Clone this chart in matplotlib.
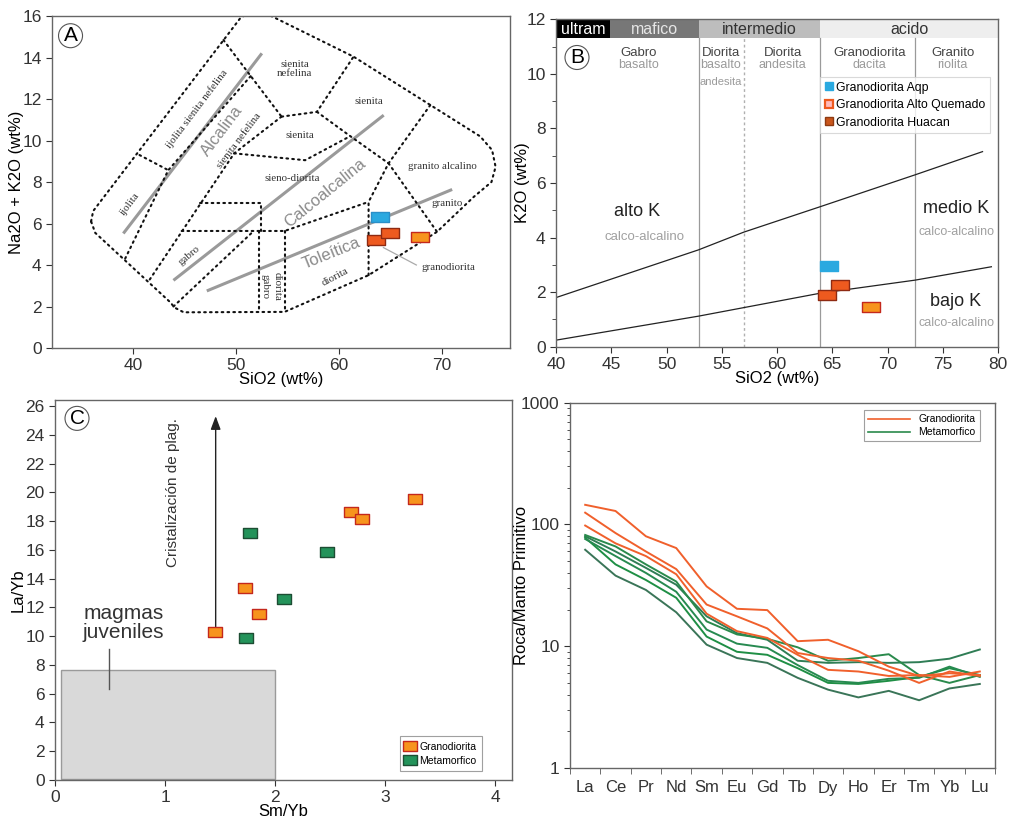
import matplotlib
matplotlib.use('Agg')
import matplotlib.pyplot as plt
from matplotlib.path import Path
from matplotlib.lines import Line2D
from matplotlib.patches import Rectangle

plt.rcParams['font.family'] = ['Liberation Sans', 'DejaVu Sans']

# ---------------- Panel A : TAS (Na2O+K2O vs SiO2) ----------------
a_sio2_aqp = [64.0]
a_alk_aqp = [6.32]
a_sio2_aq = [63.6, 64.97]
a_alk_aq = [5.22, 5.56]
a_sio2_hu = [67.9]
a_alk_hu = [5.35]

# field boundaries (SiO2, Na2O+K2O)
tas_outer = [(35.9, 6.1), (36.1, 6.6), (50.4, 15.9), (51.2, 16.15), (52.3, 16.2),
             (53.4, 16.0), (61.4, 14.04), (68.86, 11.71), (73.7, 10.2), (74.86, 9.54),
             (75.2, 8.73), (74.8, 8.0), (73.07, 7.28), (69.51, 5.6), (62.86, 3.51),
             (54.7, 1.74), (44.9, 1.72), (44.0, 1.95), (43.6, 2.2), (36.3, 5.55), (35.9, 6.1)]
tas_lines = [
    [(40.6, 9.3), (43.4, 8.57)],
    [(48.76, 14.84), (54.4, 11.15)],
    [(51.4, 13.1), (43.4, 8.57), (39.2, 4.3)],
    [(54.4, 11.15), (49.8, 9.38), (41.46, 3.2)],
    [(54.4, 11.15), (57.84, 11.38), (61.4, 14.04)],
    [(57.84, 11.38), (61.08, 10.21), (64.8, 8.9)],
    [(49.8, 9.38), (56.7, 9.05), (61.08, 10.21)],
    [(62.86, 3.51), (62.86, 7.04), (64.8, 8.9), (68.86, 11.71)],
    [(64.8, 8.9), (69.51, 5.6)],
    [(46.5, 7.0), (52.4, 7.0), (52.4, 5.64)],
    [(44.7, 5.64), (54.7, 5.64), (62.86, 7.04)],
    [(52.2, 5.64), (52.2, 1.72)],
    [(54.7, 5.64), (54.7, 1.74)],
    [(43.9, 2.0), (51.7, 5.64)],
]
series_lines = {
    'Alcalina': [(39.03, 5.52), (52.49, 14.2)],
    'Calcoalcalina': [(43.9, 3.26), (64.33, 11.22)],
    'Toleitica': [(47.14, 2.75), (70.98, 7.64)],
}

# ---------------- Panel B : K2O vs SiO2 ----------------
b_sio2_aqp = [64.7]
b_k2o_aqp = [2.96]
b_sio2_aq = [64.53, 65.74]
b_k2o_aq = [1.9, 2.26]
b_sio2_hu = [68.54]
b_k2o_hu = [1.44]
b_upper_x = [40, 52.9, 57, 63.9, 72.5, 78.6]
b_upper_y = [1.8, 3.55, 4.2, 5.13, 6.3, 7.15]
b_lower_x = [40, 52.9, 63.9, 72.5, 79.4]
b_lower_y = [0.24, 1.12, 1.96, 2.44, 2.93]
header_labels = ['ultram', 'mafico', 'intermedio', 'acido']
header_bounds = [40, 44.9, 52.9, 63.9, 80]

# ---------------- Panel C : La/Yb vs Sm/Yb ----------------
c_smyb_gran = [1.45, 1.725, 1.855, 2.69, 2.79, 3.27]
c_layb_gran = [10.27, 13.37, 11.54, 18.61, 18.12, 19.54]
c_smyb_meta = [1.74, 1.776, 2.08, 2.47]
c_layb_meta = [9.9, 17.2, 12.56, 15.83]
juvenile_box = (0.05, 0.1, 2.0, 7.65)

# ---------------- Panel D : REE spider ----------------
ree = ['La', 'Ce', 'Pr', 'Nd', 'Sm', 'Eu', 'Gd', 'Tb', 'Dy', 'Ho', 'Er', 'Tm', 'Yb', 'Lu']
gran_1 = [145, 129, 80, 64, 31, 20.3, 19.8, 11, 11.3, 9.1, 6.8, 5.7, 6.0, 5.8]
gran_2 = [125, 85, 60, 43, 22, 17.6, 14, 8.8, 8.0, 7.6, 6.3, 5.0, 6.2, 5.7]
gran_3 = [98, 70, 55, 39, 18.5, 13.3, 11.7, 8.5, 6.4, 6.2, 5.7, 5.8, 5.6, 6.2]
meta_1 = [80, 60, 44, 32, 17.6, 12.8, 11.3, 7.6, 7.3, 7.4, 7.3, 7.4, 7.9, 9.4]
meta_2 = [82, 66, 47, 34, 16, 12.5, 11.5, 9.8, 7.6, 8.0, 8.6, 5.8, 5.0, 5.8]
meta_3 = [62, 38, 29, 19, 10.3, 8, 7.3, 5.5, 4.4, 3.8, 4.3, 3.6, 4.5, 4.9]
meta_4 = [78, 47, 35, 25, 12, 9, 8.5, 6.6, 5.0, 4.9, 5.2, 5.6, 6.6, 5.8]
meta_5 = [76, 55, 40, 28, 13.7, 10.5, 9.7, 7.0, 5.2, 5.0, 5.4, 5.5, 6.8, 5.6]

# ---------------- styling helpers ----------------
RECT_A = Path([(-1.6, -1), (1.6, -1), (1.6, 1), (-1.6, 1), (-1.6, -1)],
              [Path.MOVETO, Path.LINETO, Path.LINETO, Path.LINETO, Path.CLOSEPOLY])
RECT_C = Path([(-1.25, -1), (1.25, -1), (1.25, 1), (-1.25, 1), (-1.25, -1)],
              [Path.MOVETO, Path.LINETO, Path.LINETO, Path.LINETO, Path.CLOSEPOLY])
C_BLUE, E_BLUE = '#2aa9e0', '#2a8fc8'
C_RED, E_RED = '#ee5a1f', '#8e2a12'
C_ORA, E_ORA = '#f7941d', '#c4281c'
C_GREEN, E_GREEN = '#23935a', '#1d4d33'
SPINE = '#666666'
TICK_FS = 12.5
LAB_FS = 12

def style_axes(ax):
    for s in ax.spines.values():
        s.set_color(SPINE)
        s.set_linewidth(1.0)
    ax.tick_params(direction='out', length=4, width=0.8, colors='#333333',
                   labelsize=TICK_FS, top=False, right=False)

def circled(ax, x, y, s):
    ax.text(x, y, s, fontsize=15, ha='center', va='center', zorder=10,
            bbox=dict(boxstyle='circle,pad=0.12', fc='white', ec='#555555', lw=0.8))

fig = plt.figure(figsize=(10.11, 8.25), dpi=100)
axA = fig.add_axes([52 / 1011, 1 - 348 / 825, 458 / 1011, 332 / 825])
axB = fig.add_axes([556 / 1011, 1 - 346.7 / 825, 442 / 1011, 327.4 / 825])
axC = fig.add_axes([55 / 1011, 1 - 780 / 825, 456.7 / 1011, 379.6 / 825])
axD = fig.add_axes([570 / 1011, 1 - 768 / 825, 425 / 1011, 365.3 / 825])

# ================= Panel A =================
ax = axA
style_axes(ax)
ax.set_xlim(32.1, 76.6)
ax.set_ylim(0, 16)
ax.set_xticks([40, 50, 60, 70])
ax.set_yticks(range(0, 17, 2))
dash = (0, (0.8, 2.0))
ox, oy = zip(*tas_outer)
ax.plot(ox, oy, color='#111111', lw=1.5, ls=dash, dash_capstyle='round', zorder=2)
for ln in tas_lines:
    lx, ly = zip(*ln)
    ax.plot(lx, ly, color='#111111', lw=1.5, ls=dash, dash_capstyle='round', zorder=2)
for name, ln in series_lines.items():
    lx, ly = zip(*ln)
    ax.plot(lx, ly, color='#9a9a9a', lw=2.2, solid_capstyle='butt', zorder=1)

serif = ['Liberation Serif', 'DejaVu Serif']
tas_labels = [
    ('ijolita', 39.7, 6.96, 53),
    ('ijolita sienita nefelina', 46.2, 11.5, 53),
    ('sienita nefelina', 50.3, 10.0, 53),
    ('sienita\nnefelina', 55.7, 13.45, 0),
    ('sienita', 62.9, 11.86, 0),
    ('sienita', 56.2, 10.26, 0),
    ('sieno-diorita', 55.4, 8.17, 0),
    ('granito alcalino', 70.0, 8.73, 0),
    ('granito', 70.5, 6.97, 0),
    ('gabro', 45.4, 4.45, 40),
    ('diorita', 59.6, 3.4, 28),
    ('granodiorita', 70.6, 3.9, 0),
]
for txt, x, y, r in tas_labels:
    ax.text(x, y, txt, fontsize=7.8, family=serif, color='#333333', ha='center',
            va='center', rotation=r, rotation_mode='anchor', linespacing=1.1, zorder=3)
ax.text(52.75, 2.95, 'gabro', fontsize=7.8, family=serif, color='#333333',
        ha='center', va='center', rotation=-90)
ax.text(54.0, 2.95, 'diorita', fontsize=7.8, family=serif, color='#333333',
        ha='center', va='center', rotation=-90)
ax.text(48.6, 10.45, 'Alcalina', fontsize=12, color='#8a8a8a', ha='center',
        va='center', rotation=53, rotation_mode='anchor', zorder=3)
ax.text(58.6, 7.45, 'Calcoalcalina', fontsize=12, color='#8a8a8a', ha='center',
        va='center', rotation=39, rotation_mode='anchor', zorder=3)
ax.text(59.2, 4.55, 'Toleítica', fontsize=12, color='#8a8a8a', ha='center',
        va='center', rotation=22, rotation_mode='anchor', zorder=3)
ax.plot([64.3, 67.5], [4.84, 4.0], color='#aaaaaa', lw=0.9, zorder=2)
ax.plot(a_sio2_aqp, a_alk_aqp, ls='none', marker=RECT_A, ms=12.5, mfc=C_BLUE,
        mec=E_BLUE, mew=1.0, zorder=5)
ax.plot(a_sio2_aq, a_alk_aq, ls='none', marker=RECT_A, ms=12.5, mfc=C_RED,
        mec=E_RED, mew=1.0, zorder=5)
ax.plot(a_sio2_hu, a_alk_hu, ls='none', marker=RECT_A, ms=12.5, mfc=C_ORA,
        mec=E_ORA, mew=1.0, zorder=5)
ax.set_xlabel('SiO2 (wt%)', fontsize=LAB_FS, labelpad=-1)
ax.set_ylabel('Na2O + K2O (wt%)', fontsize=LAB_FS, labelpad=-1)
circled(ax, 33.9, 15.05, 'A')

# ================= Panel B =================
ax = axB
style_axes(ax)
ax.set_xlim(40, 80)
ax.set_ylim(0, 12)
ax.set_xticks(range(40, 81, 5))
ax.set_yticks(range(0, 13, 2))
ax.set_yticks(range(1, 12, 2), minor=True)
ax.tick_params(axis='y', which='minor', length=3, color='#333333')
hdr_face = ['#000000', '#777777', '#bdbdbd', '#eeeeee']
hdr_text = ['white', '#e6e6e6', '#333333', '#333333']
for i, lab in enumerate(header_labels):
    x0, x1 = header_bounds[i], header_bounds[i + 1]
    ax.add_patch(Rectangle((x0, 11.3), x1 - x0, 0.7, fc=hdr_face[i], ec='none', zorder=1))
    ax.text((x0 + x1) / 2, 11.64, lab, fontsize=11.5, color=hdr_text[i], ha='center',
            va='center', zorder=2)
for xv in [52.9, 63.9, 72.5]:
    ax.plot([xv, xv], [0, 11.3], color='#9a9a9a', lw=0.9, zorder=1)
ax.plot([57, 57], [0, 11.3], color='#b0b0b0', lw=1.0, ls=(0, (2, 2)), zorder=1)
ax.plot(b_upper_x, b_upper_y, color='#222222', lw=0.9, zorder=2)
ax.plot(b_lower_x, b_lower_y, color='#222222', lw=0.9, zorder=2)
rock_names = [('Gabro', 'basalto', 47.5), ('Diorita', 'basalto', 54.9),
              ('Diorita', 'andesita', 60.5), ('Granodiorita', 'dacita', 68.4),
              ('Granito', 'riolita', 75.9)]
for top, bot, x in rock_names:
    ax.text(x, 10.78, top, fontsize=9.5, color='#444444', ha='center', va='center')
    ax.text(x, 10.33, bot, fontsize=9, color='#9a9a9a', ha='center', va='center')
ax.text(54.9, 9.7, 'andesita', fontsize=8, color='#9a9a9a', ha='center', va='center')
ax.text(47.3, 4.95, 'alto K', fontsize=13, color='#222222', ha='center', va='center')
ax.text(48.05, 4.03, 'calco-alcalino', fontsize=9.5, color='#a0a0a0', ha='center', va='center')
ax.text(76.2, 5.07, 'medio K', fontsize=13, color='#222222', ha='center', va='center')
ax.text(76.2, 4.2, 'calco-alcalino', fontsize=9, color='#a0a0a0', ha='center', va='center')
ax.text(76.2, 1.65, 'bajo K', fontsize=13, color='#222222', ha='center', va='center')
ax.text(76.2, 0.86, 'calco-alcalino', fontsize=9, color='#a0a0a0', ha='center', va='center')
ax.plot(b_sio2_aqp, b_k2o_aqp, ls='none', marker=RECT_A, ms=12.5, mfc=C_BLUE,
        mec=C_BLUE, mew=1.0, zorder=5)
ax.plot(b_sio2_aq, b_k2o_aq, ls='none', marker=RECT_A, ms=12.5, mfc=C_RED,
        mec=E_RED, mew=1.0, zorder=5)
ax.plot(b_sio2_hu, b_k2o_hu, ls='none', marker=RECT_A, ms=12.5, mfc=C_ORA,
        mec=E_ORA, mew=1.0, zorder=5)
hB = [Line2D([], [], ls='none', marker='s', ms=6, mfc=C_BLUE, mec=C_BLUE),
      Line2D([], [], ls='none', marker='s', ms=6, mfc='#fbb', mec=C_RED, mew=1.6),
      Line2D([], [], ls='none', marker='s', ms=6, mfc='#c9561c', mec='#8e3a12')]
legB = ax.legend(hB, ['Granodiorita Aqp', 'Granodiorita Alto Quemado', 'Granodiorita Huacan'],
                 loc='upper left', bbox_to_anchor=(0.597, 0.823), fontsize=8.8,
                 frameon=True, fancybox=False, edgecolor='#d0d0d0', handletextpad=0.2,
                 handlelength=0.8, borderpad=0.35, labelspacing=0.45, borderaxespad=0)
legB.get_frame().set_linewidth(0.8)
legB.set_zorder(20)
ax.set_xlabel('SiO2 (wt%)', fontsize=LAB_FS, labelpad=-1)
ax.set_ylabel('K2O (wt%)', fontsize=LAB_FS, labelpad=-3)
circled(ax, 41.9, 10.6, 'B')

# ================= Panel C =================
ax = axC
style_axes(ax)
ax.set_xlim(0, 4.15)
ax.set_ylim(0, 26.4)
ax.set_xticks(range(0, 5))
ax.set_yticks(range(0, 27, 2))
bx0, by0, bx1, by1 = juvenile_box
ax.add_patch(Rectangle((bx0, by0), bx1 - bx0, by1 - by0, fc='#d9d9d9', ec='#9a9a9a',
                       lw=1.0, zorder=1))
ax.text(0.62, 10.9, 'magmas\njuveniles', fontsize=15, color='#333333', ha='center',
        va='center', linespacing=1.0)
ax.plot([0.49, 0.49], [9.1, 6.3], color='#555555', lw=1.0)
ax.annotate('', xy=(1.46, 25.5), xytext=(1.46, 10.45),
            arrowprops=dict(arrowstyle='-|>,head_length=0.8,head_width=0.3',
                            color='#222222', lw=1.0))
ax.text(1.07, 20.0, 'Cristalización de plag.', fontsize=11, color='#333333',
        rotation=90, ha='center', va='center')
ax.plot(c_smyb_gran, c_layb_gran, ls='none', marker=RECT_C, ms=9.5, mfc=C_ORA,
        mec=E_ORA, mew=1.0, zorder=5, label='Granodiorita')
ax.plot(c_smyb_meta, c_layb_meta, ls='none', marker=RECT_C, ms=9.5, mfc=C_GREEN,
        mec=E_GREEN, mew=1.0, zorder=5, label='Metamorfico')
legC = ax.legend(loc='lower left', bbox_to_anchor=(0.755, 0.024), fontsize=7.5,
                 frameon=True, fancybox=False, edgecolor='#888888', handletextpad=0.4,
                 handlelength=1.0, borderpad=0.5, labelspacing=0.4, borderaxespad=0)
legC.get_frame().set_linewidth(0.8)
ax.set_xlabel('Sm/Yb', fontsize=LAB_FS, labelpad=-1)
ax.set_ylabel('La/Yb', fontsize=LAB_FS, labelpad=0)
circled(ax, 0.2, 25.15, 'C')

# ================= Panel D =================
ax = axD
style_axes(ax)
ax.set_yscale('log')
ax.set_ylim(1, 1000)
ax.set_xlim(-0.49, 13.44)
xs = list(range(len(ree)))
for g in [gran_1, gran_2, gran_3]:
    ax.plot(xs, g, color='#f0602c', lw=1.4, zorder=3)
for m, c in zip([meta_1, meta_2, meta_3, meta_4, meta_5],
                ['#2f7d55', '#2a8a4c', '#3a7558', '#1f8f45', '#278a50']):
    ax.plot(xs, m, color=c, lw=1.4, zorder=2)
ax.set_yticks([1, 10, 100, 1000])
ax.set_yticklabels(['1', '10', '100', '1000'])
ax.tick_params(axis='y', which='minor', length=2.5, color='#333333')
ax.set_xticks(xs)
ax.set_xticklabels(ree, fontsize=12)
ax.tick_params(axis='x', which='major', length=0, pad=9)
ax.set_xticks([i + 0.5 for i in range(-1, len(ree))], minor=True)
ax.tick_params(axis='x', which='minor', length=4, color='#555555')
hD = [Line2D([], [], color='#f0602c', lw=1.2), Line2D([], [], color='#2a8a4c', lw=1.2)]
legD = ax.legend(hD, ['Granodiorita', 'Metamorfico'], loc='upper left',
                 bbox_to_anchor=(0.692, 0.98), fontsize=7.5, frameon=True, fancybox=False,
                 edgecolor='#888888', handlelength=4.0, handletextpad=0.8,
                 borderpad=0.4, labelspacing=0.3, borderaxespad=0)
legD.get_frame().set_linewidth(0.8)
ax.set_ylabel('Roca/Manto Primitivo', fontsize=LAB_FS, labelpad=-6)

fig.savefig('out.png', dpi=100)
